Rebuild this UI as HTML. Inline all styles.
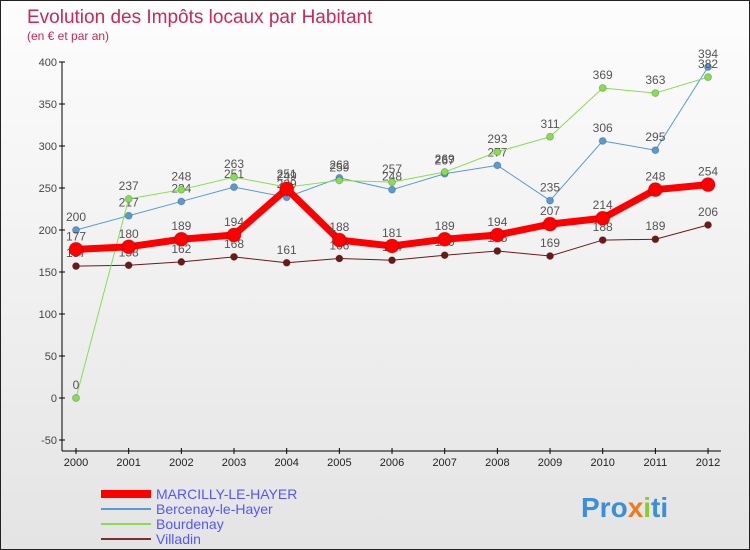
<!DOCTYPE html>
<html><head><meta charset="utf-8"><style>
body{margin:0}
#c{width:748px;height:548px;border:1px solid #222;background:linear-gradient(#fdfdfd,#e4e4e4);position:relative;font-family:"Liberation Sans",sans-serif;overflow:hidden}
</style></head><body>
<div id="c">
<svg id="s" width="748" height="548" xmlns="http://www.w3.org/2000/svg">
<text x="26" y="22" font-size="19" fill="#c8285a">Evolution des Impôts locaux par Habitant</text>
<text x="26" y="39" font-size="12" fill="#c8285a">(en € et par an)</text>
<g id="axes"></g><g id="marks"></g>
<g>
<rect x="100" y="489" width="50" height="8" fill="#f00"/>
<text x="155" y="498" font-size="14" fill="#55f">MARCILLY-LE-HAYER</text>
<line x1="100" y1="508" x2="150" y2="508" stroke="#5a9ad0" stroke-width="2"/>
<text x="155" y="513" font-size="14" fill="#55f">Bercenay-le-Hayer</text>
<line x1="100" y1="523" x2="150" y2="523" stroke="#88dd55" stroke-width="2"/>
<text x="155" y="528" font-size="14" fill="#55f">Bourdenay</text>
<line x1="100" y1="538" x2="150" y2="538" stroke="#7a3030" stroke-width="2"/>
<text x="155" y="543" font-size="14" fill="#55f">Villadin</text>
</g>
<text x="580" y="516" font-size="28" font-weight="bold" fill="#3a8fd8">Pro<tspan fill="#f07820">x</tspan><tspan fill="#8c3">i</tspan>ti</text>
</svg></div>
<script>
const years=[2000,2001,2002,2003,2004,2005,2006,2007,2008,2009,2010,2011,2012];
const marcilly=[177,180,189,194,249,188,181,189,194,207,214,248,254];
const bercenay=[200,217,234,251,239,262,248,267,277,235,306,295,394];
const bourdenay=[0,237,248,263,251,259,257,269,293,311,369,363,382];
const villadin=[157,158,162,168,161,166,164,170,175,169,188,189,206];
const yTicks=[-50,0,50,100,150,200,250,300,350,400];
const NS="http://www.w3.org/2000/svg";
const X=i=>75+i*52.67, Y=v=>397-v*0.84;
function mk(t,a,p){const e=document.createElementNS(NS,t);for(const k in a)e.setAttribute(k,a[k]);p.appendChild(e);return e;}
const ax=document.getElementById('axes'),mg=document.getElementById('marks');
let l=mk('line',{x1:61,y1:Y(400),x2:61,y2:450,stroke:'#000'},ax);


l=mk('line',{x1:61,y1:450,x2:720,y2:450,stroke:'#000'},ax);


yTicks.forEach(v=>{mk('line',{x1:58,y1:Y(v),x2:64,y2:Y(v),stroke:'#000'},ax);
const t=mk('text',{x:56,y:Y(v)+4,'font-size':11,fill:'#444','text-anchor':'end'},ax);t.textContent=v;

});
years.forEach((y,i)=>{mk('line',{x1:X(i),y1:447,x2:X(i),y2:453,stroke:'#000'},ax);
const t=mk('text',{x:X(i),y:465,'font-size':11,fill:'#222','text-anchor':'middle'},ax);t.textContent=y;

});
function series(d,col,w,r,name){
const p=mk('polyline',{points:d.map((v,i)=>X(i)+','+Y(v)).join(' '),fill:'none',stroke:col,'stroke-width':w,'stroke-linejoin':'round'},mg);


d.forEach((v,i)=>{const c=mk('circle',{cx:X(i),cy:Y(v),r:r,fill:col,stroke:'#0003'},mg);


const t=mk('text',{x:X(i),y:Y(v)-9,'font-size':12,fill:'#555','text-anchor':'middle'},mg);t.textContent=v;

});}
series(villadin,'#6b1a1a',1,3.5,'villadin');
series(bercenay,'#5a9ad0',1,3.5,'bercenay');
series(bourdenay,'#88dd55',1,3.5,'bourdenay');
series(marcilly,'#f00',7,7,'marcilly');
</script></body></html>
